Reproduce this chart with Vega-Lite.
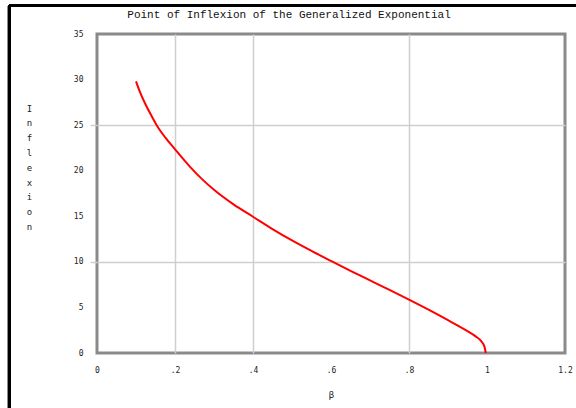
{
  "$schema": "https://vega.github.io/schema/vega-lite/v6.json",
  "width": 468,
  "height": 319,
  "autosize": {"type": "none"},
  "padding": {"left": 97, "top": 34, "right": 11, "bottom": 55},
  "background": "white",
  "title": {
    "text": "Point of Inflexion of the Generalized Exponential",
    "font": "Liberation Mono",
    "fontSize": 11,
    "fontWeight": "normal",
    "color": "#111",
    "anchor": "middle",
    "dx": -42,
    "offset": -16
  },
  "config": {
    "view": {"stroke": "#8a8a8a", "strokeWidth": 3},
    "axis": {
      "labelFont": "DejaVu Sans Mono",
      "labelFontSize": 8,
      "labelColor": "#222",
      "titleFont": "DejaVu Sans Mono",
      "titleFontSize": 9,
      "titleFontWeight": "normal",
      "titleColor": "#222",
      "domain": false,
      "gridColor": "#cfcfcf",
      "gridWidth": 1.5,
      "tickColor": "#cfcfcf",
      "tickWidth": 1.5
    }
  },
  "data": {
    "values": [
      {"beta": 0.1, "inflexion": 29.8},
      {"beta": 0.11, "inflexion": 28.65},
      {"beta": 0.123, "inflexion": 27.4},
      {"beta": 0.14, "inflexion": 26.0},
      {"beta": 0.153, "inflexion": 25.0},
      {"beta": 0.175, "inflexion": 23.65},
      {"beta": 0.2, "inflexion": 22.35},
      {"beta": 0.238, "inflexion": 20.45},
      {"beta": 0.27, "inflexion": 19.05},
      {"beta": 0.3, "inflexion": 17.9},
      {"beta": 0.35, "inflexion": 16.3},
      {"beta": 0.4, "inflexion": 14.95},
      {"beta": 0.45, "inflexion": 13.6},
      {"beta": 0.5, "inflexion": 12.35},
      {"beta": 0.55, "inflexion": 11.2},
      {"beta": 0.6, "inflexion": 10.1},
      {"beta": 0.65, "inflexion": 9.02},
      {"beta": 0.7, "inflexion": 7.97},
      {"beta": 0.75, "inflexion": 6.92},
      {"beta": 0.8, "inflexion": 5.85},
      {"beta": 0.85, "inflexion": 4.75},
      {"beta": 0.9, "inflexion": 3.6},
      {"beta": 0.94, "inflexion": 2.65},
      {"beta": 0.97, "inflexion": 1.85},
      {"beta": 0.985, "inflexion": 1.3},
      {"beta": 0.993, "inflexion": 0.75},
      {"beta": 0.997, "inflexion": 0.0}
    ]
  },
  "layer": [
    {
      "mark": {"type": "line", "color": "#ff0000", "strokeWidth": 2, "interpolate": "monotone"},
      "encoding": {
        "x": {
          "field": "beta",
          "type": "quantitative",
          "scale": {"domain": [0, 1.2], "nice": false, "zero": false},
          "axis": {
            "title": "β",
            "values": [0, 0.2, 0.4, 0.6, 0.8, 1, 1.2],
            "labelExpr": "datum.value == 0 ? '0' : datum.value < 1 ? replace(format(datum.value, '.1f'), '0.', '.') : format(datum.value, '.1~f')",
            "ticks": false,
            "labelPadding": 13,
            "titlePadding": 16,
            "labelFlush": false,
            "gridOpacity": {"condition": {"test": "datum.value == 0.2 || datum.value == 0.4 || datum.value == 0.8", "value": 1}, "value": 0}
          }
        },
        "y": {
          "field": "inflexion",
          "type": "quantitative",
          "scale": {"domain": [0, 35], "nice": false},
          "axis": {
            "title": ["I", "n", "f", "l", "e", "x", "i", "o", "n"],
            "titleAngle": 0,
            "titleAlign": "center",
            "titleBaseline": "top",
            "titleLineHeight": 14.8,
            "titleX": -68,
            "titleY": 70,
            "values": [0, 5, 10, 15, 20, 25, 30, 35],
            "tickSize": 7,
            "labelPadding": 7,
            "labelFlush": false,
            "tickOpacity": {"condition": {"test": "datum.value == 25 || datum.value == 10", "value": 1}, "value": 0},
            "gridOpacity": {"condition": {"test": "datum.value == 25 || datum.value == 10", "value": 1}, "value": 0}
          }
        }
      }
    },
    {
      "mark": {"type": "rule", "color": "black", "strokeWidth": 3, "clip": false},
      "encoding": {
        "x": {"datum": -0.2244},
        "y": {"datum": 38.13},
        "y2": {"datum": -6.3}
      }
    },
    {
      "mark": {"type": "rule", "color": "black", "strokeWidth": 3, "clip": false},
      "encoding": {
        "y": {"datum": 38.13},
        "x": {"datum": -0.2244},
        "x2": {"datum": 1.24}
      }
    }
  ]
}
